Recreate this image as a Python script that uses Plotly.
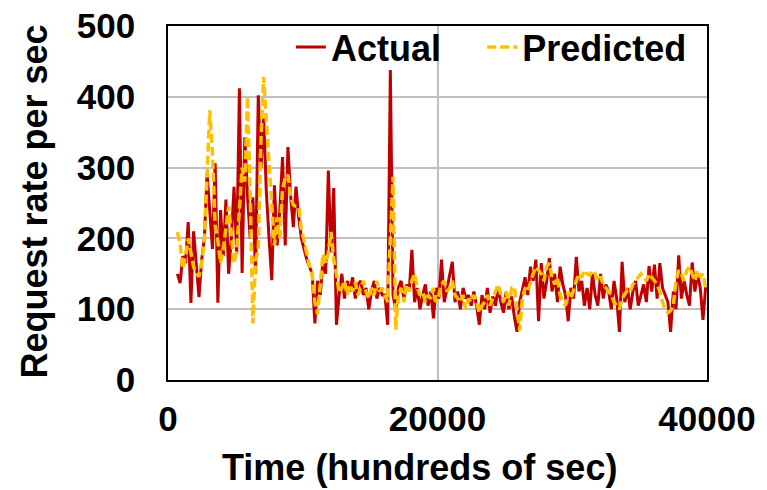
import plotly.graph_objects as go

# Time index (hundreds of sec): regular sampling every 200 starting at 700
t_start = 700
t_step = 200

actual = [
    150, 137, 175, 165, 223, 109, 210, 160, 117, 170,
    200, 292, 240, 185, 306, 109, 240, 175, 255, 150,
    200, 273, 178, 412, 151, 343, 260, 200, 258, 150,
    402, 300, 370, 265, 200, 141, 275, 190, 240, 315,
    190, 329, 260, 216, 273, 230, 200, 185, 170, 160,
    150, 80, 140, 120, 170, 150, 296, 180, 271, 78,
    120, 150, 115, 140, 125, 145, 115, 135, 140, 120,
    130, 100, 125, 140, 115, 130, 120, 120, 78, 438,
    120, 100, 130, 140, 115, 135, 125, 184, 110, 130,
    100, 120, 135, 105, 125, 87, 130, 115, 170, 110,
    130, 145, 167, 110, 125, 100, 130, 115, 120, 105,
    125, 105, 78, 120, 100, 130, 95, 118, 105, 131,
    110, 95, 125, 100, 118, 90, 68, 110, 130, 145,
    120, 160, 140, 170, 83, 165, 115, 140, 172, 125,
    150, 110, 160, 135, 120, 83, 130, 115, 174, 125,
    140, 105, 130, 100, 150, 120, 105, 150, 115, 135,
    125, 100, 140, 115, 68, 167, 110, 130, 100, 125,
    140, 105, 120, 135, 110, 161, 125, 163, 115, 165,
    130, 120, 110, 68, 125, 100, 176, 115, 140, 120,
    105, 166, 125, 150, 130, 85, 131,
]

predicted = [
    209, 192, 157, 175, 200, 180, 160, 150, 146, 165,
    197, 290, 381, 320, 218, 197, 165, 184, 215, 245,
    207, 165, 184, 240, 300, 280, 400, 265, 80, 170,
    184, 340, 428, 365, 300, 245, 190, 230, 200, 270,
    285, 290, 260, 247, 245, 245, 212, 197, 180, 160,
    150, 110, 93, 130, 178, 165, 180, 209, 170, 150,
    123, 130, 140, 120, 135, 125, 138, 120, 130, 140,
    125, 115, 130, 120, 140, 125, 130, 120, 110, 200,
    287, 71, 120, 130, 110, 135, 125, 140, 150, 130,
    120, 125, 110, 120, 115, 130, 110, 120, 135, 140,
    125, 130, 140, 120, 115, 110, 120, 100, 115, 110,
    120, 110, 95, 105, 110, 120, 105, 115, 125, 135,
    120, 110, 125, 105, 130, 132, 100, 70, 115, 130,
    125, 140, 150, 160, 155, 150, 140, 160, 165, 145,
    135, 145, 120, 110, 105, 125, 115, 130, 140, 150,
    145, 155, 150, 148, 155, 150, 140, 146, 135, 130,
    125, 120, 110, 105, 100, 115, 120, 127, 125, 135,
    140, 145, 150, 145, 140, 150, 145, 140, 135, 125,
    110, 100, 95, 98, 105, 140, 155, 150, 140, 155,
    160, 150, 140, 155, 145, 150, 130,
]

time = [t_start + i * t_step for i in range(len(actual))]

x_ticks = [0, 20000, 40000]
y_ticks = [0, 100, 200, 300, 400, 500]

FONT = "Liberation Sans, Arial, sans-serif"

fig = go.Figure()
fig.add_trace(go.Scatter(
    x=time, y=actual, mode="lines", name="<b>Actual</b>",
    line=dict(color="#C00000", width=3), legend="legend",
))
fig.add_trace(go.Scatter(
    x=time, y=predicted, mode="lines", name="<b>Predicted</b>",
    line=dict(color="#FFC000", width=3.5, dash="9px,4px"), legend="legend2",
))

axis_common = dict(
    showline=True, linecolor="black", linewidth=1.5, mirror=True,
    showgrid=True, gridcolor="#C0C0C0", gridwidth=1.5,
    zeroline=False, ticks="", automargin=False,
    ticklabeloverflow="allow",
    tickfont=dict(family=FONT, size=35, color="black", weight="bold"),
)

fig.update_xaxes(range=[0, 40000], tickvals=x_ticks,
                 ticktext=[str(v) for v in x_ticks],
                 ticklabelstandoff=7, **axis_common)
fig.update_yaxes(range=[0, 500], tickvals=y_ticks,
                 ticktext=[str(v) for v in y_ticks],
                 ticklabelstandoff=24, **axis_common)

legend_common = dict(
    orientation="h", xanchor="left", yanchor="top",
    yref="container", y=0.965,
    font=dict(family=FONT, size=36, color="black"),
    bgcolor="rgba(0,0,0,0)", borderwidth=0,
)

fig.update_layout(
    width=767, height=490,
    margin=dict(l=168, r=60, t=26, b=110, autoexpand=False),
    plot_bgcolor="white", paper_bgcolor="white",
    showlegend=True,
    legend=dict(x=0.228, **legend_common),
    legend2=dict(x=0.583, **legend_common),
    annotations=[
        dict(text="<b>Request rate per sec</b>", xref="paper", yref="paper",
             x=-0.2468, y=0.504, textangle=-90, showarrow=False,
             xanchor="center", yanchor="middle",
             font=dict(family=FONT, size=36, color="black")),
        dict(text="<b>Time (hundreds of sec)</b>", xref="paper", yref="paper",
             x=0.4675, y=-0.2458, showarrow=False,
             xanchor="center", yanchor="middle",
             font=dict(family=FONT, size=36, color="black")),
    ],
)

fig.write_html(
    "out.html",
    config={"displayModeBar": False},
    post_script="document.body.style.margin='0px';document.body.style.overflow='hidden';",
)
